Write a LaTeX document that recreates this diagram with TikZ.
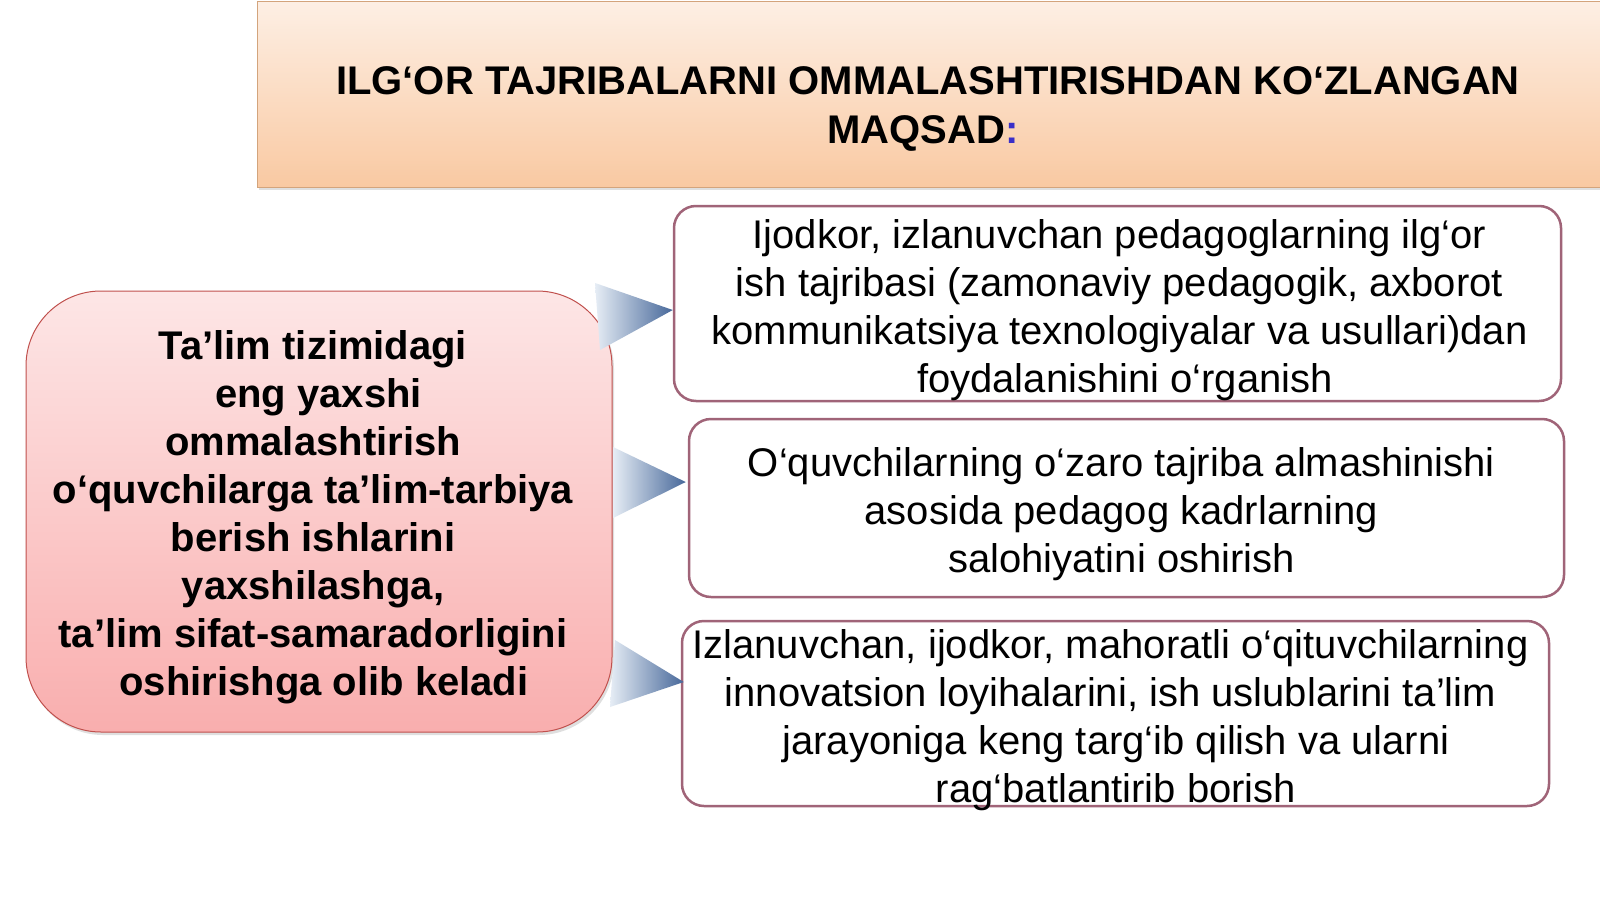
\documentclass[tikz,border=0pt]{standalone}
\usepackage{fontspec}
\setmainfont{Liberation Sans}
\usetikzlibrary{calc,shadows}
\definecolor{titletop}{HTML}{FDEFE4}
\definecolor{titlebot}{HTML}{F9C9A2}
\definecolor{titleline}{HTML}{D3A47C}
\definecolor{lefttop}{HTML}{FDE6E6}
\definecolor{leftbot}{HTML}{F9AEAE}
\definecolor{leftline}{HTML}{C0504D}
\definecolor{boxline}{HTML}{A06478}
\definecolor{arrdark}{HTML}{47689A}
\definecolor{arrlight}{HTML}{E6EDF5}
\definecolor{colonblue}{HTML}{3A2FC8}
\tikzset{
  titlebox/.style={draw=titleline, line width=1pt, top color=titletop, bottom color=titlebot,
    drop shadow={shadow xshift=2pt, shadow yshift=-3pt, opacity=0.25}},
  leftbox/.style={draw=leftline, line width=1pt, top color=lefttop, bottom color=leftbot,
    rounded corners=75pt, drop shadow={shadow xshift=2pt, shadow yshift=-3pt, opacity=0.25}},
  goalbox/.style={draw=boxline, line width=2.5pt, fill=white, rounded corners=22pt, inner sep=0pt},
  goaltext/.style={align=center, font=\fontsize{40}{48}\selectfont, inner sep=0pt},
  arrowshape/.style={left color=arrlight, right color=arrdark, draw=none},
}
\newcommand{\lead}{\hspace*{11pt}}
\begin{document}
\begin{tikzpicture}[x=1pt,y=-1pt]
\useasboundingbox[fill=white] (0,0) rectangle (1600,899);
% title
\node[titlebox, minimum width=1343pt, minimum height=185pt, inner sep=0pt] (title) at (928.5,94.5) {};
\node[align=center, font=\bfseries\fontsize{40}{49}\selectfont] (titletext) at (928,109)
  {ILG‘OR TAJRIBALARNI OMMALASHTIRISHDAN KO‘ZLANGAN\\MAQSAD\textcolor{colonblue}{:}\hspace*{10pt}};
% left box
\node[leftbox, minimum width=586pt, minimum height=441pt, inner sep=0pt] (left) at (319,511.5) {};
\node[align=center, font=\bfseries\fontsize{40}{48}\selectfont] (lefttext) at (313,517)
  {Ta’lim tizimidagi\\\lead eng yaxshi\\ommalashtirish\\o‘quvchilarga ta’lim-tarbiya\\berish ishlarini\\yaxshilashga,\\ta’lim sifat-samaradorligini\\\lead\lead oshirishga olib keladi};
% goal boxes
\node[goalbox, minimum width=887pt, minimum height=195pt] (b1) at (1117.5,303.5) {};
\node[goalbox, minimum width=875pt, minimum height=178pt] (b2) at (1126.5,508) {};
\node[goalbox, minimum width=867pt, minimum height=185pt] (b3) at (1115.5,713.5) {};
\node[goaltext] (b1t) at (1119.5,310.5)
  {Ijodkor, izlanuvchan pedagoglarning ilg‘or\\ish tajribasi (zamonaviy pedagogik, axborot\\kommunikatsiya texnologiyalar va usullari)dan\\\lead foydalanishini o‘rganish};
\node[goaltext] (b2t) at (1121.5,514)
  {O‘quvchilarning o‘zaro tajriba almashinishi\\asosida pedagog kadrlarning\\salohiyatini oshirish};
\node[goaltext] (b3t) at (1110.5,720.5)
  {Izlanuvchan, ijodkor, mahoratli o‘qituvchilarning\\innovatsion loyihalarini, ish uslublarini ta’lim\\\lead jarayoniga keng targ‘ib qilish va ularni\\\lead rag‘batlantirib borish};
% arrows
\shade[arrowshape] (595,283) -- (600,350) -- ($(b1.west)+(0,6.5)$) -- cycle;
\shade[arrowshape] (613,447) -- (613,518) -- ($(b2.west)+(-2,-26)$) -- cycle;
\shade[arrowshape] (615,640) -- (610,707) -- ($(b3.west)+(3,-31.5)$) -- cycle;
\end{tikzpicture}
\end{document}
